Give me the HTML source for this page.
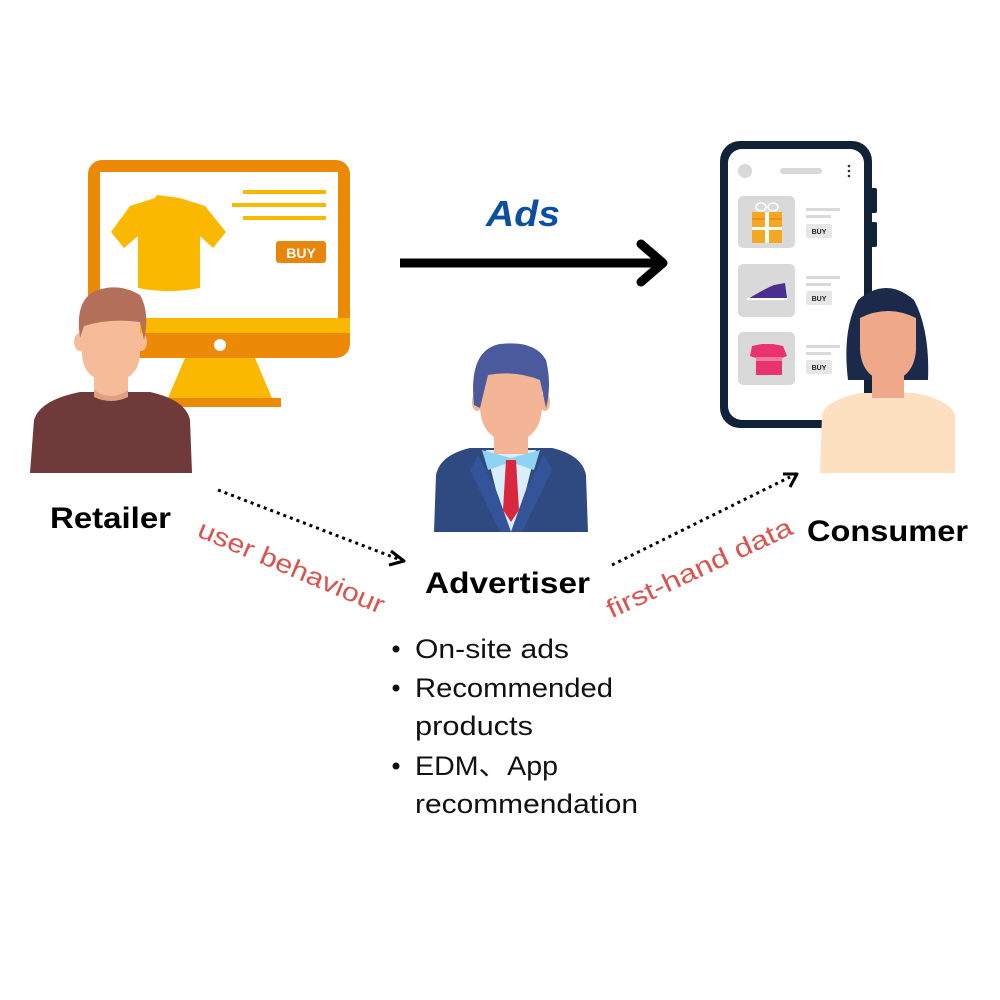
<!DOCTYPE html>
<html><head><meta charset="utf-8"><style>
html,body{margin:0;padding:0;background:#fff;}
svg{display:block;}
text{font-family:"Liberation Sans","Noto Sans CJK SC",sans-serif;}
</style></head><body>
<svg width="1000" height="1000" viewBox="0 0 1000 1000" xmlns="http://www.w3.org/2000/svg">
<rect width="1000" height="1000" fill="#fff"/>
<!-- Monitor -->
<rect x="88" y="160" width="262" height="198" rx="14" fill="#EC8A07"/>
<rect x="100" y="172" width="238" height="146" fill="#fff"/>
<rect x="100" y="318" width="250" height="15" fill="#FBB800"/>
<circle cx="220" cy="345" r="6" fill="#fff"/>
<polygon points="185,358 255,358 272,398 168,398" fill="#FBB800"/>
<rect x="160" y="398" width="121" height="9" fill="#EC8A07"/>
<path d="M157,195 L180,198 L205,206 L226,232 L213,248 L200,236 L200,288 Q168,294 138,288 L138,236 L124,248 L111,232 L130,206 L155,198 Z" fill="#FBB800"/>
<rect x="243" y="190" width="83" height="4" fill="#FBB800"/>
<rect x="232" y="203" width="94" height="4" fill="#FBB800"/>
<rect x="243" y="216" width="83" height="4" fill="#FBB800"/>
<rect x="276" y="241" width="50" height="22" rx="3" fill="#E8850A"/>
<text x="301" y="258" font-size="14" font-weight="bold" fill="#fff" text-anchor="middle">BUY</text>
<!-- Retailer man -->
<path d="M30,473 L34,420 Q40,400 80,392 L150,392 Q186,400 190,420 L192,473 Z" fill="#6E3A3A"/>
<rect x="94" y="355" width="34" height="42" fill="#F6BB98"/>
<path d="M94,390 Q111,402 128,390 L128,397 Q111,405 94,397Z" fill="#E0A080"/>
<ellipse cx="80" cy="342" rx="6" ry="9" fill="#F6BB98"/>
<ellipse cx="141" cy="342" rx="6" ry="9" fill="#F6BB98"/>
<path d="M82,318 L140,318 L140,352 Q140,380 111,382 Q82,380 82,352Z" fill="#F6BB98"/>
<path d="M80,338 Q74,298 98,290 Q120,283 140,295 Q150,312 144,340 L140,322 Q110,318 84,326Z" fill="#B5705C"/>
<!-- Ads arrow -->
<text x="486" y="226" font-size="36" font-weight="bold" font-style="italic" fill="#0B4EA2" textLength="74" lengthAdjust="spacingAndGlyphs">Ads</text>
<line x1="400" y1="263" x2="660" y2="263" stroke="#000" stroke-width="9"/>
<polyline points="641,244 663,263 641,282" fill="none" stroke="#000" stroke-width="9" stroke-linecap="round" stroke-linejoin="round"/>
<!-- Phone -->
<rect x="870" y="188" width="7" height="25" rx="2" fill="#0F2238"/>
<rect x="870" y="222" width="7" height="25" rx="2" fill="#0F2238"/>
<rect x="720" y="141" width="152" height="287" rx="20" fill="#0F2238"/>
<rect x="728" y="149" width="136" height="271" rx="14" fill="#fff"/>
<circle cx="745" cy="171" r="7" fill="#D9D9D9"/>
<rect x="780" y="168" width="42" height="6" rx="3" fill="#D9D9D9"/>
<circle cx="849" cy="166" r="1.3" fill="#333"/><circle cx="849" cy="171" r="1.3" fill="#333"/><circle cx="849" cy="176" r="1.3" fill="#333"/>
<g fill="#D9D9D9">
<rect x="738" y="196" width="57" height="52" rx="5"/>
<rect x="738" y="264" width="57" height="53" rx="5"/>
<rect x="738" y="332" width="57" height="53" rx="5"/>
<rect x="806" y="208" width="34" height="3"/><rect x="806" y="215" width="25" height="3"/>
<rect x="806" y="276" width="34" height="3"/><rect x="806" y="283" width="25" height="3"/>
<rect x="806" y="345" width="34" height="3"/><rect x="806" y="352" width="25" height="3"/>
</g>
<g fill="#E6E6E6"><rect x="806" y="224" width="26" height="14" rx="2"/><rect x="806" y="291" width="26" height="14" rx="2"/><rect x="806" y="360" width="26" height="14" rx="2"/></g>
<g font-size="7" font-weight="bold" fill="#222" text-anchor="middle"><text x="819" y="234">BUY</text><text x="819" y="301">BUY</text><text x="819" y="370">BUY</text></g>
<rect x="752" y="212" width="30" height="31" fill="#F5A623"/>
<rect x="752" y="218" width="30" height="2" fill="#E8941A"/>
<rect x="765" y="212" width="4" height="31" fill="#fff"/><rect x="752" y="227" width="30" height="3" fill="#fff"/>
<ellipse cx="761" cy="207" rx="5" ry="4" fill="none" stroke="#fff" stroke-width="1.5"/>
<ellipse cx="773" cy="207" rx="5" ry="4" fill="none" stroke="#fff" stroke-width="1.5"/>
<path d="M748,299 Q762,290 774,285 L785,283 L787,298 Z" fill="#4B2F8F"/>
<rect x="747" y="298" width="40" height="2" fill="#fff"/>
<path d="M752,346 L762,344 L773,344 L783,346 L787,356 L782,358 L782,375 L756,375 L756,358 L750,356Z" fill="#E8336D"/>
<rect x="756" y="357" width="26" height="4" fill="#F07AA0"/>
<!-- Woman -->
<path d="M848,380 Q842,330 858,300 Q886,276 914,300 Q930,330 928,380 Z" fill="#1B2A4A"/>
<path d="M820,473 L822,415 Q826,400 860,393 L915,393 Q950,400 955,415 L955,473Z" fill="#FDE0C0"/>
<rect x="872" y="360" width="32" height="38" fill="#F0A88A"/>
<path d="M860,318 Q888,304 916,318 L916,350 Q914,378 888,382 Q862,378 860,350Z" fill="#F0A88A"/>
<!-- Advertiser -->
<path d="M434,532 L436,475 Q440,455 470,448 L552,448 Q582,455 586,475 L588,532Z" fill="#2E4A80"/>
<polygon points="486,450 536,450 526,490 511,532 496,490" fill="#D8EEFA"/>
<polygon points="482,450 511,458 540,450 534,470 511,462 488,470" fill="#8FD3F2"/>
<polygon points="506,460 516,460 519,510 511,522 503,510" fill="#D8283E"/>
<polygon points="478,455 496,490 511,532 500,532 470,470" fill="#34549A"/>
<polygon points="544,455 526,490 511,532 522,532 552,470" fill="#34549A"/>
<rect x="494" y="418" width="34" height="36" fill="#F3B595"/>
<ellipse cx="477" cy="402" rx="5" ry="9" fill="#F3B595"/>
<ellipse cx="545" cy="402" rx="5" ry="9" fill="#F3B595"/>
<path d="M480,370 L542,370 L542,408 Q540,440 511,442 Q482,440 480,408Z" fill="#F3B595"/>
<path d="M474,405 Q468,350 500,344 Q535,340 546,360 Q552,385 546,408 L540,380 Q515,370 488,375 L480,408Z" fill="#4A5A9C"/>
<!-- Dotted arrows -->
<line x1="218" y1="490" x2="398" y2="559" stroke="#000" stroke-width="3" stroke-dasharray="3,4"/>
<polyline points="391,551 404,561 389,565" fill="none" stroke="#000" stroke-width="3" stroke-linejoin="round"/>
<line x1="612" y1="565" x2="790" y2="477" stroke="#000" stroke-width="3" stroke-dasharray="3,4"/>
<polyline points="783,474 797,474 790,487" fill="none" stroke="#000" stroke-width="3" stroke-linejoin="round"/>
<text transform="translate(288,575) rotate(23)" font-size="26" fill="#D9534F" text-anchor="middle" textLength="200" lengthAdjust="spacingAndGlyphs">user behaviour</text>
<text transform="translate(703,576) rotate(-25)" font-size="26" fill="#D9534F" text-anchor="middle" textLength="202" lengthAdjust="spacingAndGlyphs">first-hand data</text>
<!-- Labels -->
<text x="50" y="528" font-size="30" font-weight="bold" fill="#000" textLength="121" lengthAdjust="spacingAndGlyphs">Retailer</text>
<text x="807" y="541" font-size="30" font-weight="bold" fill="#000" textLength="161" lengthAdjust="spacingAndGlyphs">Consumer</text>
<text x="425" y="593" font-size="30" font-weight="bold" fill="#000" textLength="165" lengthAdjust="spacingAndGlyphs">Advertiser</text>
<g font-size="27" fill="#111">
<circle cx="396" cy="649" r="3.5"/><text x="415" y="658" textLength="154" lengthAdjust="spacingAndGlyphs">On-site ads</text>
<circle cx="396" cy="688" r="3.5"/><text x="415" y="697" textLength="198" lengthAdjust="spacingAndGlyphs">Recommended</text>
<text x="415" y="735" textLength="118" lengthAdjust="spacingAndGlyphs">products</text>
<circle cx="396" cy="766" r="3.5"/><text x="415" y="775" textLength="143" lengthAdjust="spacingAndGlyphs">EDM、App</text>
<text x="415" y="813" textLength="223" lengthAdjust="spacingAndGlyphs">recommendation</text>
</g>
</svg>
</body></html>
